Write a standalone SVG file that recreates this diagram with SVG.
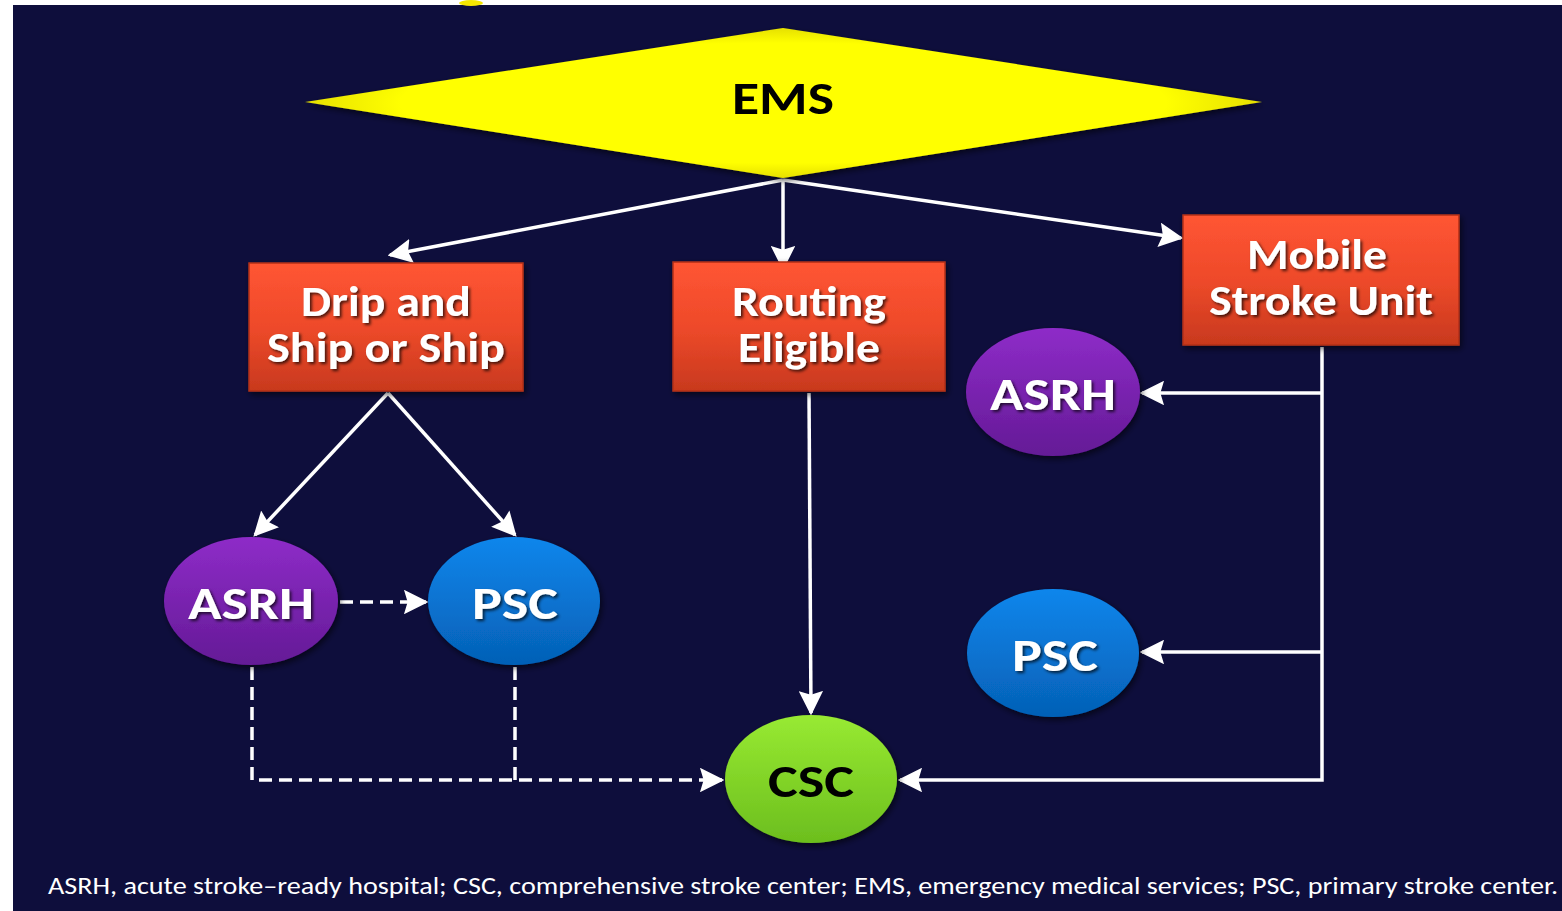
<svg xmlns="http://www.w3.org/2000/svg" width="1562" height="911" viewBox="0 0 1562 911">
<defs>
<linearGradient id="gRed" x1="0" y1="0" x2="0" y2="1"><stop offset="0" stop-color="#FF5533"/><stop offset="0.5" stop-color="#EE4A2A"/><stop offset="1" stop-color="#C8391E"/></linearGradient>
<linearGradient id="gPurple" x1="0" y1="0" x2="0" y2="1"><stop offset="0" stop-color="#8E2CC8"/><stop offset="1" stop-color="#641A96"/></linearGradient>
<linearGradient id="gBlue" x1="0" y1="0" x2="0" y2="1"><stop offset="0" stop-color="#0C86EC"/><stop offset="1" stop-color="#0560B6"/></linearGradient>
<linearGradient id="gGreen" x1="0" y1="0" x2="0" y2="1"><stop offset="0" stop-color="#98EA32"/><stop offset="1" stop-color="#6CBE1E"/></linearGradient>
<radialGradient id="gYellow" cx="0.5" cy="0.5" r="0.5"><stop offset="0" stop-color="#FFFF00"/><stop offset="0.8" stop-color="#FFFF00"/><stop offset="1" stop-color="#E6E000"/></radialGradient>
<filter id="shadow" x="-10%" y="-10%" width="125%" height="130%"><feDropShadow dx="2" dy="3" stdDeviation="3" flood-color="#000" flood-opacity="0.6"/></filter>
<filter id="tshadow" x="-10%" y="-20%" width="125%" height="150%"><feDropShadow dx="2" dy="2" stdDeviation="1.5" flood-color="#000" flood-opacity="0.7"/></filter>
<marker id="arr" viewBox="0 0 10 10" refX="9" refY="5" markerWidth="7" markerHeight="7" markerUnits="strokeWidth" orient="auto"><path d="M0,0 L10,5 L0,10 L1.5,5 Z" fill="#FFFFFF"/></marker>
</defs>
<style>
.bg{fill:#0E0E3C}
.box{fill:url(#gRed);stroke:#B23018;stroke-width:1.5;filter:url(#shadow)}
.lbl{font-family:Carlito,"Open Sans","Liberation Sans",sans-serif;font-weight:bold;fill:#FFFFFF;text-anchor:middle;filter:url(#tshadow)}
.con{fill:none;stroke:#FFFFFF;stroke-width:3.5}
.dash{stroke-dasharray:13,7}
.foot{font-family:Carlito,"Liberation Sans",sans-serif;font-size:24px;fill:#FFFFFF}
</style>
<rect x="0" y="0" width="1562" height="911" fill="#FFFFFF"/>
<rect class="bg" x="13" y="5" width="1549" height="906"/>
<ellipse cx="471" cy="3" rx="12" ry="3" fill="#F5E600"/>
<g id="connectors">
<path class="con" d="M783,180 L390,255" marker-end="url(#arr)"/>
<path class="con" d="M783,180 L783,268" marker-end="url(#arr)"/>
<path class="con" d="M783,180 L1181,238" marker-end="url(#arr)"/>
<path class="con" d="M388,393 L255,535" marker-end="url(#arr)"/>
<path class="con" d="M388,393 L515,535" marker-end="url(#arr)"/>
<path class="con dash" d="M340,602 L426,602" marker-end="url(#arr)"/>
<path class="con dash" d="M252,667 L252,780 L722,780" marker-end="url(#arr)"/>
<path class="con dash" d="M515,667 L515,780"/>
<path class="con" d="M809,393 L811,713" marker-end="url(#arr)"/>
<path class="con" d="M1322,347 L1322,780 L900,780" marker-end="url(#arr)"/>
<path class="con" d="M1322,393 L1142,393" marker-end="url(#arr)"/>
<path class="con" d="M1322,652 L1142,652" marker-end="url(#arr)"/>
</g>
<g id="ems">
<polygon points="305,102 783,28 1262,102 783,178" fill="url(#gYellow)" filter="url(#shadow)"/>
<text x="783" y="114" font-family="Carlito,'Open Sans','Liberation Sans',sans-serif" font-weight="bold" font-size="46" fill="#000" text-anchor="middle" textLength="102" lengthAdjust="spacingAndGlyphs">EMS</text>
</g>
<g id="drip">
<rect class="box" x="249" y="263" width="274" height="128"/>
<text class="lbl" x="386" y="316" font-size="42" textLength="170" lengthAdjust="spacingAndGlyphs">Drip and</text>
<text class="lbl" x="386" y="362" font-size="42" textLength="238" lengthAdjust="spacingAndGlyphs">Ship or Ship</text>
</g>
<g id="routing">
<rect class="box" x="673" y="262" width="272" height="129"/>
<text class="lbl" x="809" y="316" font-size="42" textLength="154" lengthAdjust="spacingAndGlyphs">Routing</text>
<text class="lbl" x="809" y="362" font-size="42" textLength="142" lengthAdjust="spacingAndGlyphs">Eligible</text>
</g>
<g id="msu">
<rect class="box" x="1183" y="215" width="276" height="130"/>
<text class="lbl" x="1317" y="269" font-size="42" textLength="140" lengthAdjust="spacingAndGlyphs">Mobile</text>
<text class="lbl" x="1321" y="315" font-size="42" textLength="224" lengthAdjust="spacingAndGlyphs">Stroke Unit</text>
</g>
<g id="asrh-left">
<ellipse cx="251" cy="601" rx="87" ry="64" fill="url(#gPurple)" filter="url(#shadow)"/>
<text class="lbl" x="251" y="619" font-size="47" textLength="126" lengthAdjust="spacingAndGlyphs">ASRH</text>
</g>
<g id="psc-left">
<ellipse cx="514" cy="601" rx="86" ry="64" fill="url(#gBlue)" filter="url(#shadow)"/>
<text class="lbl" x="515" y="619" font-size="47" textLength="86" lengthAdjust="spacingAndGlyphs">PSC</text>
</g>
<g id="asrh-right">
<ellipse cx="1053" cy="392" rx="87" ry="64" fill="url(#gPurple)" filter="url(#shadow)"/>
<text class="lbl" x="1053" y="410" font-size="47" textLength="126" lengthAdjust="spacingAndGlyphs">ASRH</text>
</g>
<g id="psc-right">
<ellipse cx="1053" cy="653" rx="86" ry="64" fill="url(#gBlue)" filter="url(#shadow)"/>
<text class="lbl" x="1055" y="671" font-size="47" textLength="86" lengthAdjust="spacingAndGlyphs">PSC</text>
</g>
<g id="csc">
<ellipse cx="811" cy="779" rx="86" ry="64" fill="url(#gGreen)" filter="url(#shadow)"/>
<text x="811" y="797" font-family="Carlito,'Open Sans','Liberation Sans',sans-serif" font-weight="bold" font-size="47" fill="#000" text-anchor="middle" textLength="86" lengthAdjust="spacingAndGlyphs">CSC</text>
</g>
<g id="footer">
<text class="foot" x="48" y="894" textLength="1510" lengthAdjust="spacingAndGlyphs">ASRH, acute stroke–ready hospital; CSC, comprehensive stroke center; EMS, emergency medical services; PSC, primary stroke center.</text>
</g>
</svg>
